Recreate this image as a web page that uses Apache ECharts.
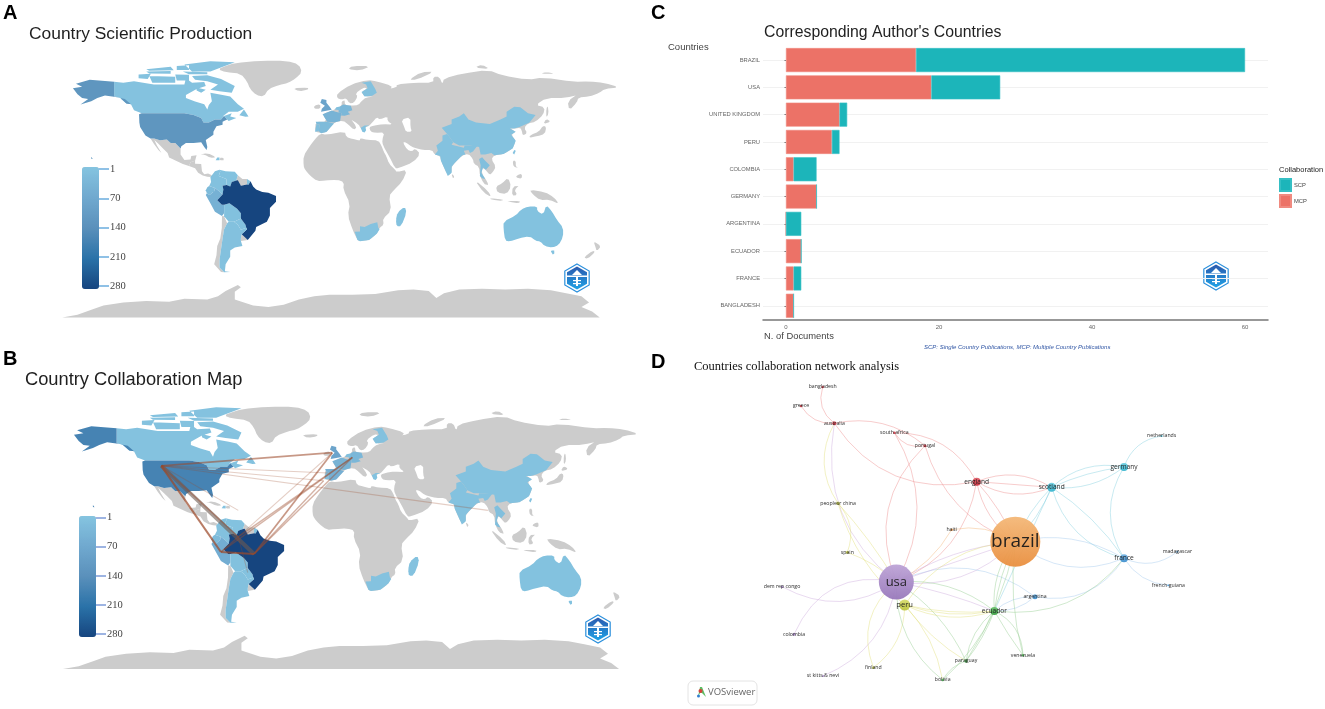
<!DOCTYPE html>
<html>
<head>
<meta charset="utf-8">
<title>Countries</title>
<style>
html, body { margin: 0; padding: 0; background: #fff; }
#main { width: 1325px; height: 709px; }
</style>
<script src="https://cdn.jsdelivr.net/npm/echarts@6/dist/echarts.min.js"></script>
</head>
<body>
<div id="main"></div>
<script>
const mapValuesA = { Brazil: 280, USA: 125, UK: 85, Germany: 35, France: 45, Spain: 25, Portugal: 15, Netherlands: 15, Finland: 8, Greece: 6,
  Canada: 5, China: 5, India: 5, Thailand: 15, Taiwan: 5, Australia: 6, SouthAfrica: 5, Madagascar: 5, Peru: 50, Colombia: 8, Venezuela: 6,
  Ecuador: 25, Bolivia: 10, Paraguay: 5, Argentina: 8, Haiti: 3, FrenchGuiana: 3 };
const mapValuesB = { Brazil: 280, USA: 170, UK: 85, Germany: 35, France: 45, Spain: 55, Portugal: 15, Netherlands: 15, Finland: 8, Greece: 6,
  Canada: 5, China: 5, India: 5, Thailand: 15, Taiwan: 5, Australia: 6, SouthAfrica: 5, Madagascar: 5, Peru: 60, Colombia: 8, Venezuela: 6,
  Ecuador: 25, Bolivia: 10, Paraguay: 5, Argentina: 8, Haiti: 3, FrenchGuiana: 3 };
const scaleTicks = [1, 70, 140, 210, 280];

// collaboration lines of panel B, lon/lat of the country points
const collabPoints = { USA: [-112.7, 45.6], Brazil: [-54, -11], UK: [-4.5, 54], Germany: [8.2, 51], Peru: [-75, -9.7], Colombia: [-64, 0],
  Spain: [-10, 36], France: [-7, 41], Thailand: [94, 17], Haiti: [-64, 17], Argentina: [-58, -23] };
const collabLinks = [['USA', 'Brazil'], ['USA', 'Peru'], ['USA', 'UK'], ['Brazil', 'UK'], ['Brazil', 'Germany'], ['Brazil', 'Spain'], ['Colombia', 'Germany'],
  ['Peru', 'Brazil'], ['Peru', 'Colombia'], ['Colombia', 'UK'], ['USA', 'Spain'], ['USA', 'France'], ['USA', 'Thailand'], ['USA', 'Haiti'], ['USA', 'Colombia'], ['Colombia', 'Argentina'], ['Peru', 'Germany']];
const collabWeights = [9, 4, 3, 3, 2, 2, 2, 4, 2, 1, 1, 1, 1, 1, 2, 1, 2];

// panel C
const countries = ['BRAZIL', 'USA', 'UNITED KINGDOM', 'PERU', 'COLOMBIA', 'GERMANY', 'ARGENTINA', 'ECUADOR', 'FRANCE', 'BANGLADESH'];
const mcpDocs = [17, 19, 7, 6, 1, 4, 0, 2, 1, 1];
const scpDocs = [43, 9, 1, 1, 3, 0, 2, 0, 1, 0];
const docTicks = [0, 20, 40, 60];

// panel D: VOSviewer layout
const netNames = ['brazil', 'usa', 'peru', 'ecuador', 'england', 'scotland', 'germany', 'france', 'argentina', 'australia', 'peoplesr china', 'spain',
  'bangladesh', 'greece', 'south africa', 'portugal', 'haiti', 'netherlands', 'madagascar', 'french guiana', 'dem rep congo', 'colombia',
  'st kitts & nevi', 'finland', 'bolivia', 'paraguay', 'venezuela'];
const netX = [1006, 649, 674, 943, 890, 1115, 1332, 1332, 1065, 463, 474, 502, 428, 363, 643, 735, 815, 1445, 1492, 1465, 306, 342, 429, 580, 788, 858, 1029];
const netY = [560, 681, 750, 768, 380, 397, 336, 610, 725, 205, 445, 592, 96, 153, 233, 272, 524, 243, 590, 691, 695, 838, 963, 938, 975, 918, 901];
const netWeight = [50, 35, 11, 8, 8, 9, 8, 8, 5, 4, 3.5, 3, 2.5, 2.5, 2.5, 3, 2.5, 2, 2, 2, 2.5, 3, 2, 2.5, 2.5, 3.5, 2.5];
const netCluster = ['orange', 'purple', 'yellow', 'green', 'red', 'teal', 'teal', 'blue', 'blue', 'red', 'yellow', 'yellow', 'red', 'red', 'red', 'red', 'orange',
  'teal', 'blue', 'blue', 'purple', 'purple', 'purple', 'yellow', 'green', 'green', 'green'];
const netLinks = [
  ['bangladesh', 'australia'], ['greece', 'australia'], ['australia', 'portugal'], ['australia', 'england'], ['south africa', 'portugal'], ['south africa', 'england'],
  ['south africa', 'usa'], ['portugal', 'usa'], ['portugal', 'brazil'], ['england', 'usa'], ['england', 'brazil'], ['england', 'brazil'],
  ['england', 'scotland'], ['england', 'scotland'], ['england', 'scotland'],
  ['scotland', 'germany'], ['scotland', 'germany'], ['scotland', 'germany'], ['germany', 'netherlands'], ['germany', 'france'], ['scotland', 'france'], ['scotland', 'france'],
  ['scotland', 'brazil'], ['scotland', 'brazil'], ['scotland', 'ecuador'], ['france', 'madagascar'], ['france', 'french guiana'], ['france', 'brazil'], ['haiti', 'brazil'],
  ['france', 'argentina'], ['ecuador', 'france'], ['argentina', 'usa'], ['argentina', 'ecuador'], ['argentina', 'ecuador'],
  ['peoplesr china', 'australia'], ['usa', 'australia'], ['peoplesr china', 'spain'], ['peoplesr china', 'peru'], ['spain', 'usa'], ['peoplesr china', 'usa'],
  ['dem rep congo', 'usa'], ['colombia', 'usa'], ['st kitts & nevi', 'usa'], ['finland', 'usa'], ['finland', 'peru'],
  ['usa', 'brazil'], ['usa', 'brazil'], ['usa', 'brazil'], ['france', 'brazil'], ['peru', 'brazil'], ['haiti', 'usa'],
  ['ecuador', 'usa'], ['usa', 'ecuador'], ['bolivia', 'usa'], ['paraguay', 'usa'],
  ['peru', 'ecuador'], ['peru', 'ecuador'], ['peru', 'ecuador'], ['peru', 'paraguay'], ['peru', 'bolivia'],
  ['bolivia', 'paraguay'], ['bolivia', 'ecuador'], ['paraguay', 'ecuador'], ['paraguay', 'ecuador'],
  ['venezuela', 'ecuador'], ['venezuela', 'ecuador'], ['paraguay', 'brazil'], ['ecuador', 'brazil'], ['ecuador', 'brazil'], ['venezuela', 'brazil']
];

// country outlines, hand simplified, [lon, lat]. Drawn in this order, so the grey land goes first
const worldShapes = [
  ['Antarctica', [[[-175,-84.8],[-165,-83],[-155,-79.5],[-148,-77],[-135,-75],[-120,-74],[-105,-74.5],[-95,-72.5],[-80,-73],[-73,-71],[-68,-67.5],[-60,-63.5],[-58,-65],[-62,-68],[-62,-73],[-50,-77],[-40,-78],[-30,-76.5],[-20,-73],[-10,-71],[0,-70],[15,-70],[30,-69.5],[45,-67],[55,-66.5],[65,-67.5],[70,-72],[75,-69],[85,-66.5],[100,-66],[115,-66.5],[130,-66],[145,-67],[155,-69],[165,-71],[170,-75],[165,-78],[172,-81],[177,-84.8]]]],
  ['Greenland', [[[-73,78],[-68,80],[-62,82],[-45,83.5],[-28,83.5],[-20,81],[-18,76],[-22,72],[-27,69],[-33,67.5],[-40,65],[-43,60],[-48,61],[-52,65],[-54,70],[-58,75],[-68,76]]]],
  ['Eurasia', [[[-9.5,37],[-9,43.5],[-1.5,43.5],[-4.5,48.5],[1.5,50.5],[4,52],[8,54],[8,57],[10.5,57.5],[10,54.5],[14,54],[19,54.5],[21,57],[24,59.5],[30,60],[23,60],[21,63],[25,65.5],[22,65.8],[17,62],[18.5,60],[16,56],[13,55.5],[11,59],[8,58],[5,59],[5,62],[14,68],[25,71],[31,70],[41,67],[40,65],[35,64.5],[44,66],[44,68],[55,69],[68,69],[68,73],[72,73],[74,68],[75,72],[87,75],[104,77.5],[113,74],[130,71],[140,72.5],[160,69.7],[170,70],[180,69],[190,66],[180,65],[177,62.5],[170,60],[163,59.5],[162,56],[157,51],[156,57],[163,62],[155,59],[142,59],[135,54.5],[141,53],[140,48],[135,43.5],[130,42.5],[127.5,39.5],[129.5,36],[126.5,34.5],[126,37.5],[125,39.5],[121,39],[118,39],[122,37],[119,35],[122,31],[120,26],[114,22.3],[108,21.5],[106,19],[109,14],[107,10.5],[105,8.7],[103,11],[100.5,13.5],[99.5,10],[103.5,4],[104,1.3],[101,3],[98.5,8],[98,14],[94.5,16],[94,19],[91,22.5],[87,21.5],[82,16.5],[80,14],[80,10],[77.5,8],[73,18],[72.5,21],[69,22],[67,25],[61,25],[57,26],[54,27],[50,30],[48,30],[51,25],[54,24],[56,26],[59.5,22.5],[55,17],[45,13],[43,13],[39,21],[35,28],[34.5,31.5],[36,36.5],[30,36.3],[27,37],[26,40],[29,41],[35,42],[41.5,41.5],[38,44],[38,47],[33,45],[31,46.5],[28,43],[26,40.8],[23.5,40],[23,37],[20.5,39],[19,42],[13,45.5],[18,40.2],[16,38],[12,42],[9,44.3],[3,43],[0,39],[-2,36.8],[-5.5,36]],
    [[47,45],[49,40],[50,37],[54,37],[53,40],[53,46.5]]]],
  ['Africa', [[[-17,14.7],[-17,21],[-13,27.5],[-9.5,32],[-6,35.8],[-2,35],[10,37.2],[11,33.5],[15,32.3],[20,31],[20,32.8],[25,31.6],[32,31.2],[34,28],[35.5,24],[37.2,21],[39,16],[43,12],[44,10.5],[51,12],[47.5,4],[42,-1.5],[39,-5],[40.5,-15],[35,-20],[35.5,-24],[32.8,-26],[31,-30],[26,-34],[20,-34.8],[18.3,-34],[15,-27],[12,-18],[13.5,-10],[9,-1],[9.5,4],[5,5.5],[-3,5],[-8,4.5],[-13,8.5],[-16,12]]]],
  ['Islands', [[[-24,65.5],[-14,66],[-14,64.5],[-20,63.5]], [[-10,52],[-6,52],[-6,55],[-10,54]], [[130.5,33],[136,34],[141,35.5],[142,40],[140,41],[137,37],[132,35]], [[140,42],[145,43.5],[142,45.5]], [[142,46],[143.5,49],[143,54],[142,52]],
    [[52,71],[57,71],[69,76.5],[60,76]], [[12,78],[20,77],[27,80],[15,80]], [[95,79],[105,78],[100,81]], [[138,75],[148,75],[142,76]], [[120,18],[122,18],[122,14],[124,13],[120.5,14]], [[122,7],[126,6],[126,9.5],[123,8.5]],
    [[109,1],[113,3],[117,7],[119,1],[116,-4],[110,-3]], [[95,5.5],[104,-2],[106,-6],[101,-3]], [[105,-6.5],[114,-7.5],[114,-8.5],[106,-7.5]], [[119.5,-5],[120,1],[125,1.5],[121,-1],[123,-4.5]], [[116,-8.5],[125,-8.5],[124,-10],[118,-9]],
    [[131,-1],[141,-2.6],[147,-6],[150.5,-10.5],[144,-7.5],[138,-8],[133,-4]], [[173,-35],[178,-38],[175,-41.5],[174,-38]], [[172.5,-41],[174,-42],[169,-46.5],[166.5,-45.5]], [[80,9.5],[82,7.5],[80.5,6]], [[-85,22],[-80,23],[-74,20.2],[-78,19.9],[-82,22]], [[-72,18.2],[-68.5,18.3],[-69.5,19.8],[-72,20]]]],
  ['Mexico', [[[-117.2,32.5],[-114.8,32.5],[-111,31.3],[-106.5,31.8],[-104,29.5],[-101,29.5],[-97.5,26],[-97.5,22],[-95,18.5],[-91,18.8],[-90.5,21],[-87,21.5],[-88,18],[-91,17],[-92,14.5],[-96,15.8],[-105,20],[-106,23],[-109,26],[-112,29],[-114.7,31.5],[-113,28],[-110,23],[-112,25],[-115,29]]]],
  ['CentralAmerica', [[[-92,14.5],[-91,17],[-88,18],[-88,16],[-84,15.8],[-83.5,11],[-82,9],[-79.5,9.5],[-77,8.5],[-78,7.3],[-80,7.5],[-83,8.2],[-86,10],[-88,13]]]],
  ['Guyanas', [[[-60,8.5],[-57,6],[-54,6],[-54,2.3],[-58,1.5],[-60,2.5],[-61,5]]]],
  ['Uruguay', [[[-57.5,-30.2],[-53.5,-34],[-58,-34.7],[-58,-33]]]],
  ['Chile', [[[-69,-18.5],[-70.4,-18.3],[-70.5,-26],[-71.5,-33],[-73.5,-38],[-74,-44],[-75.5,-50],[-71,-55],[-69,-55.2],[-72,-52],[-72,-47],[-71,-40],[-70,-33],[-69,-27],[-67,-23]]]],
  ['Canada', [[[-141,69.7],[-135,69],[-128,70],[-115,68],[-108,68],[-95,68],[-94,72],[-90,69],[-82,69.5],[-81,67],[-87,65],[-94,61],[-94,59],[-88,56.8],[-82,55],[-80,51.5],[-79,54.5],[-77,57],[-78,62.5],[-70,61],[-65,60],[-60,55],[-56,52],[-60,50],[-66,50],[-70,47],[-64,49],[-65,47],[-61,46],[-66,44],[-67,45],[-69,47.3],[-71,45],[-75,45],[-79,43],[-82.5,43],[-84,46],[-89,48],[-95,49],[-123,49],[-128,51],[-130,55],[-133,55.5],[-137,59],[-141,60.3]],
    [[-90,73.5],[-80,74],[-71,71.5],[-62,67],[-64,62.5],[-72,63.5],[-78,64.5],[-73,68],[-80,70],[-88,71]], [[-118,73.5],[-101,73],[-101,69],[-116,69]], [[-125,74.5],[-117,75],[-119,71.5],[-125,72]], [[-90,76.5],[-78,76.5],[-62,82.5],[-78,83.2],[-95,81]],
    [[-96,76.5],[-80,76],[-80,74.6],[-92,74.6]], [[-120,76.5],[-104,76.8],[-104,75],[-118,75.2]], [[-101,74.5],[-92,74.3],[-92,70.5],[-100,70.5]], [[-59,47.8],[-56,51.5],[-53,47],[-55,46.8]], [[-87,66],[-81,64.5],[-84,62.5],[-87,64]], [[-120,78],[-104,79.5],[-102,77.3],[-118,77]], [[-100,80],[-92,80.5],[-92,77.5],[-100,77.5]]]],
  ['USA', [[[-124.7,48.4],[-123,49],[-95,49],[-89,48],[-84,46],[-82.5,43],[-79,43],[-75,45],[-71,45],[-69,47.3],[-67,45],[-70,43.5],[-70,41.5],[-74,40.5],[-76,37],[-76,35],[-81,31.5],[-80,27],[-80.5,25],[-82,27],[-84,30],[-89,29.5],[-94,29.5],[-97,27.5],[-97.5,26],[-101,29.5],[-104,29.5],[-106.5,31.8],[-111,31.3],[-114.8,32.5],[-117.2,32.5],[-120.5,34.5],[-124,40],[-124.5,43]],
    [[-168,65.5],[-162,66.5],[-166,68.5],[-157,71],[-141,69.7],[-141,60.3],[-137,59],[-133,55.5],[-130,55],[-134,58.5],[-140,59.8],[-147,60.8],[-152,59],[-156,57],[-163,54.8],[-158,58.5],[-162,59],[-165,61.5]], [[-156,20.5],[-155,19],[-156,19.2]]]],
  ['Haiti', [[[-74.5,18.3],[-72,18.2],[-72,20],[-73.5,20]]]],
  ['Colombia', [[[-77,8.5],[-75,11],[-72,12],[-71.5,11],[-72.5,8],[-70,7],[-67.5,6],[-67.3,2],[-70,1.5],[-69.5,-1],[-70,-4.2],[-72,-2.3],[-75,0],[-78.8,1.4],[-77.5,4],[-78,7.3]]]],
  ['Venezuela', [[[-72,12],[-68,11],[-62,10.7],[-60,8.5],[-61,5],[-64,4],[-65,1],[-67.3,2],[-67.5,6],[-70,7],[-72.5,8],[-71.5,11]]]],
  ['FrenchGuiana', [[[-54,6],[-51.7,4.5],[-53,2.2],[-54,2.3]]]],
  ['Ecuador', [[[-78.8,1.4],[-75,0],[-75.5,-2],[-78.5,-4.5],[-80.3,-3.4],[-81,-1.5],[-80,0.5]]]],
  ['Peru', [[[-81,-4.5],[-80.3,-3.4],[-78.5,-4.5],[-75.5,-2],[-75,0],[-72,-2.3],[-70,-4.2],[-73.5,-8],[-70.5,-11],[-69,-11],[-69,-16.5],[-70.4,-18.3],[-75,-15.5],[-78,-10]]]],
  ['Bolivia', [[[-69,-11],[-65.5,-10],[-60.5,-13.5],[-58,-16.5],[-58,-20],[-62.5,-22],[-66,-22],[-69,-18.5],[-69,-12]]]],
  ['Paraguay', [[[-58,-20],[-55,-24],[-54.5,-26],[-58,-27.3],[-60,-24],[-62.5,-22]]]],
  ['Brazil', [[[-60,5.2],[-58,1.5],[-54,2.3],[-53,2.2],[-51.7,4.5],[-50,1],[-48,-1],[-44,-2.5],[-40,-3],[-35,-5.2],[-35,-9],[-39,-13],[-39,-18],[-41,-22],[-48,-25.5],[-48.5,-28],[-53.5,-34],[-57.5,-30.2],[-54,-27],[-54.5,-26],[-55,-24],[-58,-20],[-58,-16.5],[-60.5,-13.5],[-65.5,-10],[-69,-11],[-70.5,-11],[-73.5,-8],[-70,-4.2],[-69.5,-1],[-70,1.5],[-67.3,2],[-65,1],[-64,4],[-61,5]]]],
  ['Argentina', [[[-66,-22],[-62.5,-22],[-60,-24],[-58,-27.3],[-54.5,-26],[-54,-27],[-57.5,-30.2],[-58,-33],[-58,-34.7],[-57,-38],[-62,-39],[-65,-41],[-65,-45],[-68,-50],[-68.5,-54.5],[-65,-55],[-69,-55.2],[-72,-52],[-72,-47],[-71,-40],[-70,-33],[-69,-27],[-67,-23]]]],
  ['SouthAfrica', [[[16.5,-28.6],[20,-28.5],[20,-25],[23,-25.5],[27,-23.5],[31.3,-22.4],[32,-26],[32.8,-27],[31,-30],[26,-34],[20,-34.8],[18.3,-34]]]],
  ['Madagascar', [[[49.3,-12],[50.5,-16],[47,-25],[44,-25],[43.5,-21],[44.5,-16]]]],
  ['UK', [[[-5.5,50],[1.5,51.3],[0,53.5],[-2,56],[-2,57.7],[-5,58.5],[-6,56],[-3,54],[-5,52]]]],
  ['Portugal', [[[-9.5,37],[-7,37.2],[-6.5,41.5],[-8.5,42]]]],
  ['Spain', [[[-9,43.5],[-1.5,43.5],[3,42.3],[0,39],[-2,36.8],[-5.5,36],[-7,37.2],[-6.5,41.5],[-8.5,42]]]],
  ['France', [[[-4.5,48.5],[1.5,50.9],[4,50],[8,49],[7.5,47.6],[7,44],[3,43],[-1.5,43.5]]]],
  ['Germany', [[[6,51],[7,53.5],[9,54.8],[14,54],[15,51],[12,50],[13.5,48.5],[10,47.5],[7.5,47.6],[8,49],[6,49.5]]]],
  ['Netherlands', [[[3.5,51.5],[7,51],[7,53.5],[4.5,53]]]],
  ['Finland', [[[21,63],[25,65.5],[24,68],[21,69],[27,70],[30,65],[31,62.5],[28,60.5],[23,60]]]],
  ['Greece', [[[20.5,39.5],[23,41],[26,41],[23.5,40],[24,38],[23,36.5],[21.5,37]]]],
  ['China', [[[73.5,39.5],[80,42],[80,45],[85,47],[88,49],[91,45],[96,43],[105,42],[112,45],[116,47],[116,50],[121,53.3],[125,53],[130,49],[135,48],[131,43],[130,42.5],[124.5,40],[121,39],[118,39],[122,37],[119,35],[122,31],[120,26],[114,22.3],[108,21.5],[106,23],[102,22],[99,22],[98,27],[92,28],[85,28],[81,30],[79,33],[77,35.5]]]],
  ['India', [[[74,34.5],[77,35.5],[79,33],[81,30],[80,28.5],[88,26.5],[88.5,28],[92,28],[97,28],[94,24],[92,23],[91,25],[88,24.5],[89,22],[87,21.5],[82,16.5],[80,14],[80,10],[77.5,8],[73,18],[72.5,21],[69,22],[71,24.5],[70,28],[74,31]]]],
  ['Thailand', [[[98,19],[100,20.3],[102,18],[105,15],[102.5,12],[100.5,13.5],[99.5,10],[102,6],[100,6.5],[98.5,8],[99,15]]]],
  ['Taiwan', [[[120,23],[121,25],[122,24.5],[121,22]]]],
  ['Australia', [[[114,-22],[122,-18],[125.5,-14],[130,-12],[136,-12],[136,-15],[140,-17.5],[142,-11],[145.5,-15],[149,-21],[153,-26],[153,-32],[150,-37.5],[146,-39],[141,-38],[138,-35],[135,-34.5],[131,-31.5],[124,-33],[118,-35],[115,-34.3],[114,-27]], [[144.7,-41],[148,-41],[147,-43.5],[146,-43.5]]]]
];

// cut the corners of the whole-land outlines once so the coasts look less angular
const softLand = ['Greenland', 'Eurasia', 'Africa', 'Islands', 'Madagascar', 'Australia'];
const soften = function (ring) {
  const out = [];
  ring.forEach(function (p, i) {
    const q = ring[(i + 1) % ring.length];
    out.push([p[0] * 0.75 + q[0] * 0.25, p[1] * 0.75 + q[1] * 0.25]);
    out.push([p[0] * 0.25 + q[0] * 0.75, p[1] * 0.25 + q[1] * 0.75]);
  });
  return out;
};

echarts.registerMap('world', {
  type: 'FeatureCollection',
  features: worldShapes.map(function (s) {
    const rings = softLand.indexOf(s[0]) >= 0 ? s[1].map(soften) : s[1];
    // Eurasia second ring is the Caspian (a hole), the others are separate land parts
    const geometry = s[0] === 'Eurasia'
      ? { type: 'Polygon', coordinates: rings }
      : { type: 'MultiPolygon', coordinates: rings.map(function (r) { return [r]; }) };
    return { type: 'Feature', properties: { name: s[0] }, geometry: geometry };
  })
});

const toMapData = function (values) {
  return Object.keys(values).map(function (k) { return { name: k, value: values[k] }; });
};

const blues = ['#85c4e0', '#70a9cf', '#5a90bb', '#2a72a8', '#16457f'];
const serif = '"Liberation Serif", serif';
const sans = '"Liberation Sans", Arial, sans-serif';

const linkColors = { red: '#ee8f8f', teal: '#86d0e0', blue: '#a3c9ee', purple: '#cfaedd', orange: '#f3b67a', yellow: '#e3df7c', green: '#97cf92' };
const nodeColors = { red: ['#e2606a', '#c92f3e'], teal: ['#6fd0e2', '#36b4ce'], blue: ['#74b4e4', '#3f8fcd'], purple: ['#bda3d6', '#9878bb'], orange: ['#f4b878', '#e98f3f'], yellow: ['#d8dd70', '#bcc43f'], green: ['#6cc270', '#3a9f42'] };
const linkBends = [
  -0.35, -0.3, 0.24, -0.33, -0.35, 0.3,
  0.29, -0.33, -0.25, 0.28, -0.2, 0.08,
  0.25, 0, -0.25,
  0.25, 0.08, -0.2, 0.3, -0.3, -0.28, 0.1,
  0.1, -0.1, 0, -0.3, -0.25, -0.2, 0.2,
  0.33, -0.28, -0.3, 0.2, -0.2,
  0.3, 0.3, 0.3, -0.15, 0.1, 0.05,
  -0.3, 0.4, -0.28, 0.35, -0.25,
  0.12, 0, -0.25, 0.3, 0.25, 0.15,
  -0.2, 0.05, 0.25, -0.15,
  -0.2, -0.13, -0.08, -0.1, 0.15,
  0.2, -0.1, 0.2, -0.08,
  -0.3, 0.03, -0.1, 0.2, 0.08, 0.1
];
const labelFont = function (weight) {
  if (weight > 40) return 19;
  if (weight > 20) return 13;
  if (weight > 10) return 7.6;
  if (weight > 5) return 6.6;
  return 5.2;
};

const netData = netNames.map(function (name, i) {
  const c = nodeColors[netCluster[i]];
  return {
    name: name,
    value: [netX[i], netY[i]],
    symbolSize: netWeight[i],
    itemStyle: {
      color: new echarts.graphic.LinearGradient(0, 0, 0, 1, [{ offset: 0, color: c[0] }, { offset: 1, color: c[1] }]),
      opacity: 0.95
    },
    label: { show: true, position: 'inside', color: '#1a1a1a', fontFamily: '"Open Sans", sans-serif', fontSize: labelFont(netWeight[i]) }
  };
});
const netLinkData = netLinks.map(function (l, i) {
  const from = netCluster[netNames.indexOf(l[0])];
  return { source: l[0], target: l[1], lineStyle: { color: linkColors[from], curveness: linkBends[i], width: 0.9, opacity: 0.5 } };
});

const collabData = collabLinks.map(function (l, i) {
  const w = collabWeights[i];
  return {
    coords: [collabPoints[l[0]], collabPoints[l[1]]],
    lineStyle: { width: w > 6 ? 4 : 0.7 + w * 0.35, opacity: w > 6 ? 0.6 : 0.12 + w * 0.15, color: w > 6 ? '#6e5a50' : '#9c4a2a' }
  };
});

const logo = function (cx, cy) {
  const hex = function (r) {
    return [[0, -r], [r * 0.87, -r * 0.5], [r * 0.87, r * 0.5], [0, r], [-r * 0.87, r * 0.5], [-r * 0.87, -r * 0.5]];
  };
  return {
    type: 'group', x: cx, y: cy, children: [
      { type: 'polygon', shape: { points: hex(14) }, style: { fill: '#fff', stroke: '#2a8fdc', lineWidth: 1.2 } },
      { type: 'polygon', shape: { points: hex(11.5) }, style: { fill: new echarts.graphic.LinearGradient(0, 0, 0, 1, [{ offset: 0, color: '#2b59ae' }, { offset: 1, color: '#1fa2e6' }]) } },
      { type: 'rect', shape: { x: -10, y: -2.5, width: 20, height: 1.5 }, style: { fill: '#fff' } },
      { type: 'polygon', shape: { points: [[0, -8], [5, -3], [-5, -3]] }, style: { fill: '#fff' } },
      { type: 'rect', shape: { x: -1, y: -2, width: 2, height: 10 }, style: { fill: '#fff' } },
      { type: 'rect', shape: { x: -4, y: 2, width: 8, height: 1.2 }, style: { fill: '#fff' } },
      { type: 'rect', shape: { x: -4, y: 5, width: 8, height: 1.2 }, style: { fill: '#fff' } }
    ]
  };
};

const text = function (t, left, top, size, extra) {
  return {
    text: t, left: left, top: top, padding: 0,
    textStyle: Object.assign({ fontSize: size, fontWeight: 'normal', color: '#1f1f1f', fontFamily: sans }, extra || {})
  };
};

// axis sits on the right edge of the colour bar, ticks and labels point into its own small grid
const scaleAxis = function (gridIndex, tickColor) {
  return {
    type: 'value', gridIndex: gridIndex, min: 0, max: 280, interval: 70, inverse: true,
    axisLine: { show: false }, splitLine: { show: false },
    axisTick: { show: true, inside: true, length: 11, lineStyle: { color: tickColor, width: 2 } },
    axisLabel: {
      show: true, inside: true, margin: 12, color: '#444', fontSize: 10.5, fontFamily: serif,
      formatter: function (v, i) { return scaleTicks[i]; }
    }
  };
};
const hiddenX = function (gridIndex) {
  return { type: 'value', gridIndex: gridIndex, show: false };
};
const scaleBar = function (index, left, top, height) {
  return {
    type: 'continuous', seriesIndex: index, min: 1, max: 280, inverse: true, calculable: false,
    left: left, top: top, itemWidth: 17, itemHeight: height, padding: 0, text: null, showLabel: false,
    inRange: { color: blues }
  };
};
const mapBox = function (left, top, width, height) {
  return {
    map: 'world', left: left, top: top, width: width, height: height, roam: false, silent: true,
    boundingCoords: [[-180, 84], [190, -85]],
    itemStyle: { areaColor: '#cccccc', borderWidth: 0 },
    emphasis: { disabled: true }, select: { disabled: true }, label: { show: false }
  };
};

const option = {
  backgroundColor: '#fff',
  animation: false,
  title: [
    text('A', 3, 3, 20, { fontWeight: 'bold', color: '#000' }),
    text('Country Scientific Production', 29, 26, 17.4),
    text('B', 3, 349, 20, { fontWeight: 'bold', color: '#000' }),
    text('Country Collaboration Map', 25, 371, 18.3),
    text('C', 651, 3, 20, { fontWeight: 'bold', color: '#000' }),
    text("Corresponding Author's Countries", 764, 25, 15.8),
    text('Countries', 668, 42, 9.5, { color: '#444' }),
    text('N. of Documents', 764, 332, 9.4, { color: '#444' }),
    text('SCP: Single Country Publications, MCP: Multiple Country Publications', 924, 344, 6, { color: '#2f55a4', fontStyle: 'italic' }),
    text('Collaboration', 1279, 166, 7.5, { color: '#222' }),
    text('D', 651, 352, 20, { fontWeight: 'bold', color: '#000' }),
    text('Countries collaboration network analysis', 694, 360, 12.5, { fontFamily: serif, color: '#111' })
  ],
  geo: [mapBox(54.6, 60, 565, 257.7), mapBox(55, 406, 584.6, 263.3)],
  visualMap: [scaleBar(0, 82, 167, 122), scaleBar(1, 79, 516, 121)],
  grid: [
    { left: 98, top: 169, width: 30, height: 117 },
    { left: 95, top: 517.5, width: 30, height: 116.5 },
    { left: 763, top: 46.4, width: 505, height: 273 },
    { left: 680, top: 355, width: 500, height: 354 }
  ],
  xAxis: [
    hiddenX(0),
    hiddenX(1),
    {
      type: 'value', gridIndex: 2, min: -3, max: 63,
      axisLine: { show: true, onZero: false, lineStyle: { color: '#777', width: 1.5 } },
      axisTick: { show: false }, splitLine: { show: false },
      axisLabel: { customValues: docTicks, color: '#666', fontSize: 6, margin: 5, fontFamily: sans }
    },
    { type: 'value', gridIndex: 3, min: 0, max: 1500, show: false }
  ],
  yAxis: [
    scaleAxis(0, '#8fc1e6'),
    scaleAxis(1, '#9db4e2'),
    {
      type: 'category', gridIndex: 2, data: countries, inverse: true,
      axisLine: { show: false },
      axisTick: { show: true, length: 1.5, alignWithLabel: true, lineStyle: { color: '#777' } },
      splitLine: { show: true, alignWithLabel: true, lineStyle: { color: '#f1f1f1', width: 1 } },
      axisLabel: { color: '#666', fontSize: 5.8, margin: 3, fontFamily: sans, interval: 0 }
    },
    { type: 'value', gridIndex: 3, min: 0, max: 1062, inverse: true, show: false }
  ],
  legend: {
    data: ['SCP', 'MCP'], orient: 'vertical', left: 1279, top: 178, padding: 0,
    itemWidth: 11, itemHeight: 12, itemGap: 2, icon: 'rect', selectedMode: false,
    textStyle: { fontSize: 5.8, color: '#444', fontFamily: sans, padding: [0, 0, 0, -2] }
  },
  series: [
    { type: 'map', name: 'A', geoIndex: 0, data: toMapData(mapValuesA) },
    { type: 'map', name: 'B', geoIndex: 1, data: toMapData(mapValuesB) },
    { type: 'lines', coordinateSystem: 'geo', geoIndex: 1, silent: true, zlevel: 0, z: 5, data: collabData },
    { type: 'bar', name: 'MCP', xAxisIndex: 2, yAxisIndex: 2, stack: 'docs', barWidth: 24, data: mcpDocs, itemStyle: { color: '#ec7267', borderColor: '#f08a80', borderWidth: 0.6 } },
    { type: 'bar', name: 'SCP', xAxisIndex: 2, yAxisIndex: 2, stack: 'docs', barWidth: 24, data: scpDocs, itemStyle: { color: '#1cb5ba', borderColor: '#35bfc4', borderWidth: 0.6 } },
    {
      type: 'graph', coordinateSystem: 'cartesian2d', xAxisIndex: 3, yAxisIndex: 3, layout: 'none', silent: true,
      data: netData, links: netLinkData, edgeSymbol: ['none', 'none'], z: 5
    }
  ],
  graphic: [
    logo(577, 278),
    logo(598, 629),
    logo(1216, 276),
    { type: 'rect', shape: { x: 688, y: 681, width: 69, height: 24, r: 5 }, style: { fill: '#fff', stroke: '#e4e4e4', lineWidth: 1 } },
    { type: 'polygon', shape: { points: [[698, 697], [700, 687], [702, 687], [706, 697], [702, 693], [700, 693]] }, style: { fill: '#5dbb63' } },
    { type: 'circle', shape: { cx: 700.5, cy: 691, r: 2 }, style: { fill: '#d8403c' } },
    { type: 'circle', shape: { cx: 698.5, cy: 696, r: 1.5 }, style: { fill: '#2f7fd0' } },
    { type: 'text', x: 708, y: 687, style: { text: 'VOSviewer', fontSize: 9.5, fill: '#666', fontFamily: '"Open Sans", sans-serif' } }
  ]
};

const chart = echarts.init(document.getElementById('main'));
chart.setOption(option);
</script>
</body>
</html>
